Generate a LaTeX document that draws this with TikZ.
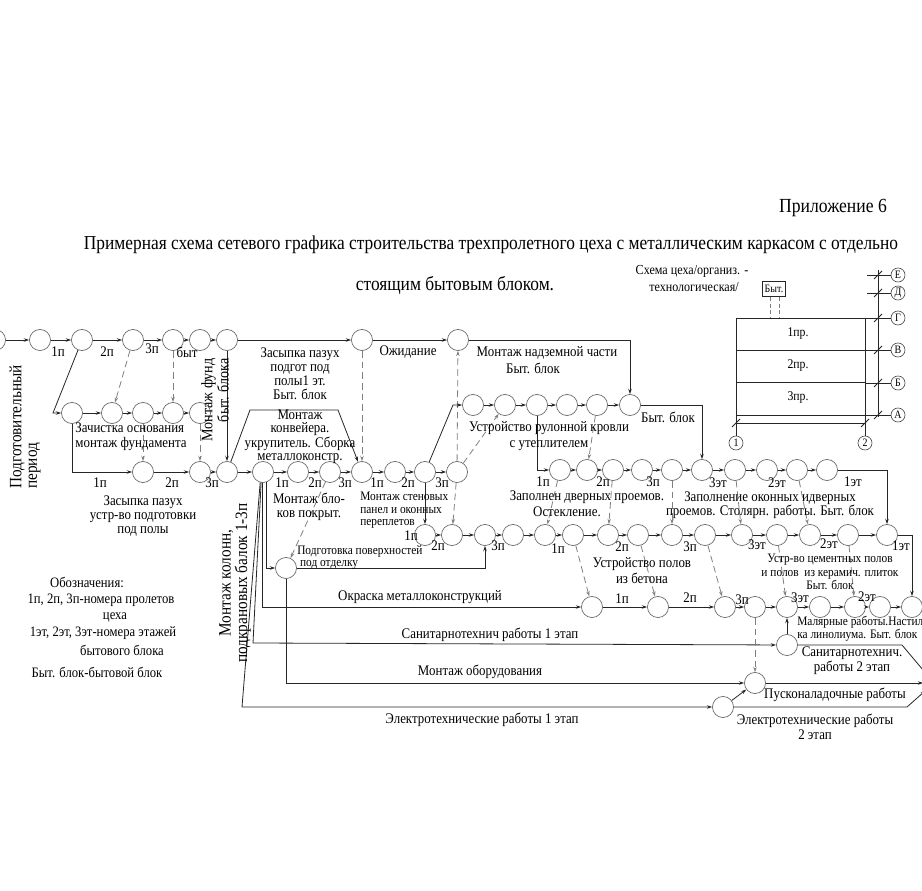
\documentclass[tikz,border=0pt]{standalone}
\usepackage{fontspec}
\setmainfont{Liberation Serif}[FakeStretch=0.88]
\usetikzlibrary{arrows.meta}
\begin{document}
\begin{tikzpicture}[x=0.75pt,y=-0.75pt,
  ev/.style={circle,draw=black!60,line width=0.5pt,minimum size=15.8pt,inner sep=0pt,fill=white},
  sev/.style={circle,draw=black!70,line width=0.5pt,minimum size=10.5pt,inner sep=0pt,fill=white,font=\fontsize{8.5}{9}\selectfont},
  ar/.style={-{Stealth[length=4pt,width=2.6pt]},line width=0.6pt,draw=black!85},
  ln/.style={line width=0.6pt,draw=black!85},
  da/.style={-{Stealth[length=4pt,width=2.6pt]},line width=0.6pt,draw=black!50,dash pattern=on 5pt off 3pt},
  tx/.style={font=\fontsize{11}{10.5}\selectfont,inner sep=0pt,align=center},
  txs/.style={font=\fontsize{9.7}{9.6}\selectfont,inner sep=0pt,align=left},
  nm/.style={font=\fontsize{11}{11}\selectfont,inner sep=0pt},
  bt/.style={font=\fontsize{10}{10}\selectfont,inner sep=0pt},
  lg/.style={font=\fontsize{10.8}{11}\selectfont,inner sep=0pt},
  bld/.style={line width=0.6pt,draw=black!85}
]
\useasboundingbox (0,0) rectangle (922,891);
\fill[white] (0,0) rectangle (922,891);

% ---- titles
\node[font=\fontsize{15}{15}\selectfont,inner sep=0pt] (ttl0) at (833,208) {Приложение 6};
\node[font=\fontsize{14.8}{15}\selectfont,inner sep=0pt] (ttl1) at (491,245) {Примерная схема сетевого графика строительства трехпролетного цеха с металлическим каркасом с отдельно};
\node[font=\fontsize{14.8}{15}\selectfont,inner sep=0pt] (ttl2) at (455,285) {стоящим бытовым блоком.};

% ---- events
\node[ev] (T0) at (-5,340) {};
\node[ev] (T1) at (40,340) {};
\node[ev] (T2) at (82,340) {};
\node[ev] (T3) at (133,340) {};
\node[ev] (T4) at (173,340) {};
\node[ev] (T5) at (200,340) {};
\node[ev] (T6) at (227,340) {};
\node[ev] (T7) at (362,340) {};
\node[ev] (T8) at (458,340) {};

\node[ev] (Z1) at (72,413) {};
\node[ev] (Z2) at (112,413) {};
\node[ev] (Z3) at (143,413) {};
\node[ev] (Z4) at (173,413) {};
\node[ev] (Z5) at (200,413) {};

\node[ev] (B1) at (143,472) {};
\node[ev] (B2) at (200,472) {};

\node[ev] (M0) at (227,472) {};
\node[ev] (M1) at (263,472) {};
\node[ev] (M2) at (298,472) {};
\node[ev] (M3) at (330,472) {};
\node[ev] (M4) at (362,472) {};
\node[ev] (M5) at (395,472) {};
\node[ev] (M6) at (425,472) {};
\node[ev] (M7) at (457,472) {};

\node[ev] (R1) at (473,405) {};
\node[ev] (R2) at (505,405) {};
\node[ev] (R3) at (537,405) {};
\node[ev] (R4) at (567,405) {};
\node[ev] (R5) at (597,405) {};
\node[ev] (R6) at (630,405) {};

\node[ev] (D1) at (560,470) {};
\node[ev] (D2) at (587,470) {};
\node[ev] (D3) at (613,470) {};
\node[ev] (D4) at (642,470) {};
\node[ev] (D5) at (672,470) {};
\node[ev] (D6) at (702,470) {};
\node[ev] (D7) at (735,470) {};
\node[ev] (D8) at (767,470) {};
\node[ev] (D9) at (797,470) {};
\node[ev] (D10) at (827,470) {};

\node[ev] (S1) at (425,535) {};
\node[ev] (S2) at (452,535) {};
\node[ev] (S3) at (485,535) {};
\node[ev] (S4) at (513,535) {};
\node[ev] (S5) at (545,535) {};
\node[ev] (S6) at (573,535) {};
\node[ev] (S7) at (608,535) {};
\node[ev] (S8) at (638,535) {};
\node[ev] (S9) at (672,535) {};
\node[ev] (S10) at (705,535) {};
\node[ev] (S11) at (742,535) {};
\node[ev] (S12) at (777,535) {};
\node[ev] (S13) at (810,535) {};
\node[ev] (S14) at (848,535) {};
\node[ev] (S15) at (887,535) {};

\node[ev] (P) at (286,568) {};

\node[ev] (Q1) at (592,607) {};
\node[ev] (Q2) at (658,607) {};
\node[ev] (Q3) at (725,607) {};
\node[ev] (Q4) at (755,607) {};
\node[ev] (Q5) at (787,607) {};
\node[ev] (Q6) at (820,607) {};
\node[ev] (Q7) at (855,607) {};
\node[ev] (Q8) at (880,607) {};
\node[ev] (Q9) at (912,607) {};

\node[ev] (San) at (787,645) {};
\node[ev] (Pusk) at (755,683) {};
\node[ev] (El) at (723,707) {};
\node[ev] (Fin) at (934,683) {};
\coordinate (qend) at (945,607);

% ---- connectors: top row
\draw[ar] (T0) -- (T1);
\draw[ar] (T1) -- (T2);
\draw[ar] (T2) -- (T3);
\draw[ar] (T3) -- (T4);
\draw[ar] (T4) -- (T5);
\draw[ar] (T5) -- (T6);
\draw[ar] (T6) -- (T7);
\draw[ar] (T7) -- (T8);
% Zachistka row
\draw[ar] (T2) -- (53,413) -- (Z1);
\draw[ar] (Z1) -- (Z2);
\draw[ar] (Z2) -- (Z3);
\draw[ar] (Z3) -- (Z4);
\draw[ar] (Z4) -- (Z5);
\draw[da] (T3) -- (Z2);
\draw[da] (T4) -- (Z4);
\draw[da] (Z3) -- (B1);
\draw[da] (Z5) -- (B2);
\draw[ar] (Z1) |- (B1);
\draw[ar] (B1) -- (B2);
\draw[ar] (B2) -- (M0);
\draw[ar] (T6) -- (M0);
% main row
\draw[ar] (M0) -- (M1);
\draw[ar] (M1) -- (M2);
\draw[ar] (M2) -- (M3);
\draw[ar] (M3) -- (M4);
\draw[ar] (M4) -- (M5);
\draw[ar] (M5) -- (M6);
\draw[ar] (M6) -- (M7);
\draw[ar] (M0) -- (250,410) -- (338,410) -- (M4);
\draw[da] (T7) -- (M4);
\draw[da] (M7) -- (T8);
% roof row
\draw[ar] (M6) -- (453,405) -- (R1);
\draw[ar] (R1) -- (R2);
\draw[ar] (R2) -- (R3);
\draw[ar] (R3) -- (R4);
\draw[ar] (R4) -- (R5);
\draw[ar] (R5) -- (R6);
\draw[da] (M7) -- (R2);
\draw[ar] (T8) -| (R6);
\draw[ar] (R6) -| (D6);
% doors row
\draw[ar] (R3) |- (D1);
\draw[da] (R5) -- (D2);
\draw[ar] (D1) -- (D2);
\draw[ar] (D2) -- (D3);
\draw[ar] (D3) -- (D4);
\draw[ar] (D4) -- (D5);
\draw[ar] (D5) -- (D6);
\draw[ar] (D6) -- (D7);
\draw[ar] (D7) -- (D8);
\draw[ar] (D8) -- (D9);
\draw[ar] (D9) -- (D10);
\draw[ar] (D10) -| (S15);
% row 2
\draw[ar] (M6) -- (S1);
\draw[da] (M7) -- (S2);
\draw[ar] (S1) -- (S2);
\draw[ar] (S2) -- (S3);
\draw[ar] (S3) -- (S4);
\draw[ar] (S4) -- (S5);
\draw[ar] (S5) -- (S6);
\draw[ar] (S6) -- (S7);
\draw[ar] (S7) -- (S8);
\draw[ar] (S8) -- (S9);
\draw[ar] (S9) -- (S10);
\draw[ar] (S10) -- (S11);
\draw[ar] (S11) -- (S12);
\draw[ar] (S12) -- (S13);
\draw[ar] (S13) -- (S14);
\draw[ar] (S14) -- (S15);
\draw[da] (D1) -- (S5);
\draw[da] (D3) -- (S7);
\draw[da] (D5) -- (S9);
\draw[da] (D7) -- (S11);
\draw[da] (D9) -- (S13);
\draw[ar] (S15) -| (Q9);
% preparation
\draw[da] (M3) -- (P);
\draw[ar] (P) -| (S3);
% fan from M1
\draw[ar] (M1.-72) |- (P);
\draw[ar] (M1.-95) |- (Q1);
\draw[ar] (M1.-100) -- (253,643) -- (San);
\draw[ar] (M1.-105) -- (242,707) -- (El);
\draw[ar] (P) |- (Pusk);
% row 3
\draw[da] (S6) -- (Q1);
\draw[da] (S8) -- (Q2);
\draw[da] (S10) -- (Q3);
\draw[da] (S12) -- (Q5);
\draw[da] (S14) -- (Q7);
\draw[ar] (Q1) -- (Q2);
\draw[ar] (Q2) -- (Q3);
\draw[ar] (Q3) -- (Q4);
\draw[ar] (Q4) -- (Q5);
\draw[ar] (Q5) -- (Q6);
\draw[ar] (Q6) -- (Q7);
\draw[ar] (Q7) -- (Q8);
\draw[ar] (Q8) -- (Q9);
\draw[ln] (Q9) -- (qend);
\draw[ar] (San) -- (Q5);
\draw[da] (Q4) -- (Pusk);
\draw[ar] (El) -- (Pusk);
\draw[ar] (San) -- (902,645) -- (Fin);
\draw[ar] (Pusk) -- (Fin);
\draw[ar] (El) -- (907,707) -- (Fin);

% ---- labels
\node[nm] (n1) at (58,352) {1п};
\node[nm] (n2) at (107,352) {2п};
\node[nm] (n3) at (152,349) {3п};
\node[nm] (n4) at (187,352) {быт};
\node[tx,rotate=90,align=right,font=\fontsize{12}{10}\selectfont] (l1) at (215,400) {Монтаж фунд\\быт. блока};
\node[tx,rotate=90,align=left,font=\fontsize{13}{11.5}\selectfont] (l2) at (25,427) {Подготовительный\\период};
\node[tx,align=left,font=\fontsize{11}{11.3}\selectfont] (l3) at (131,437) {Зачистка основания\\монтаж фундамента};
\node[nm] (n5) at (100,483) {1п};
\node[nm] (n6) at (172,483) {2п};
\node[nm] (n7) at (212,483) {3п};
\node[tx,font=\fontsize{11}{10.8}\selectfont] (l4) at (143,516) {Засыпка пазух\\ устр-во подготовки\\под полы};
\node[tx,font=\fontsize{11}{10.6}\selectfont] (l5) at (300,374) {Засыпка пазух\\подгот под\\полы1 эт.\\Быт. блок};
\node[tx] (l6) at (408,352) {Ожидание};
\node[tx,font=\fontsize{11}{9.6}\selectfont] (l7) at (300,437) {Монтаж\\конвейера.\\укрупитель. Сборка\\металлоконстр.};
\node[nm] (n8) at (282,483) {1п};
\node[nm] (n9) at (315,483) {2п};
\node[nm] (n10) at (345,483) {3п};
\node[nm] (n11) at (377,483) {1п};
\node[nm] (n12) at (408,483) {2п};
\node[nm] (n13) at (442,483) {3п};
\node[tx,font=\fontsize{11}{10.5}\selectfont] (l8) at (309,507) {Монтаж бло-\\ков покрыт.};
\node[txs,anchor=north west,font=\fontsize{9.7}{9.2}\selectfont] (l9) at (360,492) {Монтаж стеновых\\панел и оконных\\переплетов};
\node[tx] (l10a) at (547,353) {Монтаж надземной части};
\node[tx] (l10b) at (533,368) {Быт. блок};
\node[tx,font=\fontsize{11}{12.5}\selectfont] (l11) at (549,436) {Устройство рулонной кровли\\с утеплителем};
\node[tx] (l12) at (668,417) {Быт. блок};
\node[nm] (n14) at (543,482) {1п};
\node[nm] (n15) at (603,482) {2п};
\node[nm] (n16) at (653,482) {3п};
\node[nm] (n17) at (718,483) {3эт};
\node[nm] (n18) at (777,483) {2эт};
\node[nm] (n19) at (853,482) {1эт};
\node[tx] (l13a) at (587,497) {Заполнен дверных проемов.};
\node[tx] (l13b) at (567,512) {Остекление.};
\node[tx] (l14) at (770,505) {Заполнение оконных идверных\\проемов. Столярн. работы. Быт. блок};
\node[nm] (n20) at (411,536) {1п};
\node[nm] (n21) at (438,546) {2п};
\node[nm] (n22) at (498,546) {3п};
\node[nm] (n23) at (558,549) {1п};
\node[nm] (n24) at (622,547) {2п};
\node[nm] (n25) at (690,547) {3п};
\node[nm] (n26) at (757,545) {3эт};
\node[nm] (n27) at (829,544) {2эт};
\node[nm] (n28) at (901,546) {1эт};
\node[txs,anchor=north west] (l15) at (297,545) {Подготовка поверхностей\\\ под отделку};
\node[tx,font=\fontsize{11}{12}\selectfont] (l16) at (642,571) {Устройство полов\\из бетона};
\node[txs,align=center,font=\fontsize{9.7}{10}\selectfont] (l17) at (830,572) {Устр-во цементных полов\\и полов \ из керамич. плиток\\Быт. блок};
\node[nm] (n29) at (622,599) {1п};
\node[nm] (n30) at (690,598) {2п};
\node[nm] (n31) at (742,600) {3п};
\node[nm] (n32) at (800,598) {3эт};
\node[nm] (n33) at (867,597) {2эт};
\node[txs,anchor=north west] (l18) at (797,616) {Малярные работы.Настил\\ка линолиума. Быт. блок};
\node[tx,rotate=90,font=\fontsize{13}{11.3}\selectfont] (l19) at (235,583) {Монтаж колонн,\\подкрановых балок 1-3п};
\node[tx] (l20) at (420,597) {Окраска металлоконструкций};
\node[tx] (l21) at (490,635) {Санитарнотехнич работы 1 этап};
\node[tx] (l22) at (480,672) {Монтаж оборудования};
\node[tx] (l23) at (482,720) {Электротехнические работы 1 этап};
\node[tx,font=\fontsize{11}{9.8}\selectfont] (l24) at (852,661) {Санитарнотехнич.\\работы 2 этап};
\node[tx] (l25) at (835,695) {Пусконаладочные работы};
\node[tx,font=\fontsize{11}{11.3}\selectfont] (l26) at (815,727) {Электротехнические работы\\2 этап};

% legend
\node[lg] (g1) at (87,582) {Обозначения:};
\node[lg] (g2) at (101,600) {1п, 2п, 3п-номера пролетов};
\node[lg] (g3) at (115,617) {цеха};
\node[lg] (g4) at (103,633) {1эт, 2эт, 3эт-номера этажей};
\node[lg] (g5) at (122,650) {бытового блока};
\node[lg] (g6) at (97,672) {Быт. блок-бытовой блок};

% ---- building scheme
\node[tx,font=\fontsize{10.3}{10}\selectfont] (s1) at (692,271) {Схема цеха/организ. -};
\node[tx,font=\fontsize{10.3}{10}\selectfont] (s2) at (694,287) {технологическая/};
\node[draw=black!85,line width=0.6pt,minimum width=17pt,minimum height=11.5pt,inner sep=1pt,font=\fontsize{8.5}{9}\selectfont] (byt) at (774,289) {Быт.};
\draw[bld,dash pattern=on 3pt off 2pt,draw=black!50] (770,297) -- (770,318);
\draw[bld,dash pattern=on 3pt off 2pt,draw=black!50] (779,297) -- (779,318);
\draw[bld] (736,318) rectangle (865,415);
\draw[bld] (736,350) -- (865,350);
\draw[bld] (736,382) -- (865,382);
\node[bt] (p1) at (798,334) {1пр.};
\node[bt] (p2) at (798,366) {2пр.};
\node[bt] (p3) at (798,398) {3пр.};
\node[sev] (ax1) at (736,443) {1};
\node[sev] (ax2) at (865,443) {2};
\draw[bld] (736,415) -- (ax1);
\draw[bld] (865,415) -- (ax2);
\draw[bld] (736,423) -- (865,423);
\draw[bld] (732,427) -- (740,419);
\draw[bld] (861,427) -- (869,419);
\node[sev] (aE) at (898,275) {Е};
\node[sev] (aD) at (898,293) {Д};
\node[sev] (aG) at (898,318) {Г};
\node[sev] (aV) at (898,350) {В};
\node[sev] (aB) at (898,383) {Б};
\node[sev] (aA) at (898,415) {А};
\draw[bld] (867,275) -- (aE);
\draw[bld] (867,293) -- (aD);
\draw[bld] (865,318) -- (aG);
\draw[bld] (865,350) -- (aV);
\draw[bld] (865,383) -- (aB);
\draw[bld] (865,415) -- (aA);
\draw[bld] (878,270) -- (878,417);
\foreach \yy in {275,293,318,350,383,415}{\draw[bld] (874,\yy+4) -- (882,\yy-4);}
\end{tikzpicture}
\end{document}
